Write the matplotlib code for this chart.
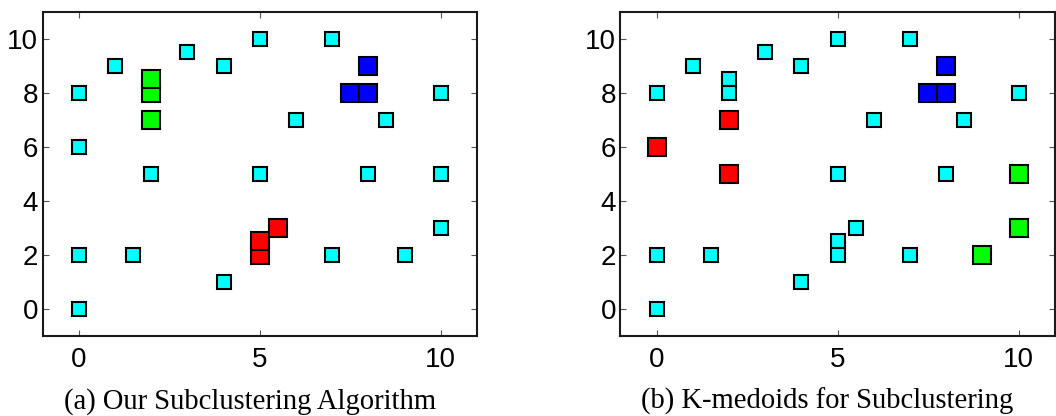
import matplotlib
matplotlib.use("Agg")
import matplotlib.pyplot as plt

# ---- data ----
# Panel (a): Our Subclustering Algorithm
a_cyan_x = [0, 1, 3, 4, 5, 7, 10, 6, 8.5, 0, 2, 5, 8, 10, 10, 0, 1.5, 7, 9, 4, 0]
a_cyan_y = [8, 9, 9.5, 9, 10, 10, 8, 7, 7, 6, 5, 5, 5, 5, 3, 2, 2, 2, 2, 1, 0]
a_green_x = [2, 2, 2]
a_green_y = [8, 8.5, 7]
a_red_x = [5, 5, 5.5]
a_red_y = [2, 2.5, 3]
a_blue_x = [8, 7.5, 8]
a_blue_y = [9, 8, 8]

# Panel (b): K-medoids for Subclustering
b_cyan_x = [0, 1, 2, 2, 3, 4, 5, 7, 10, 6, 8.5, 5, 8, 5.5, 5, 5, 0, 1.5, 7, 4, 0]
b_cyan_y = [8, 9, 8.5, 8, 9.5, 9, 10, 10, 8, 7, 7, 5, 5, 3, 2.5, 2, 2, 2, 2, 1, 0]
b_red_x = [2, 0, 2]
b_red_y = [7, 6, 5]
b_green_x = [10, 10, 9]
b_green_y = [5, 3, 2]
b_blue_x = [7.5, 8, 8]
b_blue_y = [8, 8, 9]

captions = ["(a) Our Subclustering Algorithm", "(b) K-medoids for Subclustering"]
x_ticks = [0, 5, 10]
y_ticks = [0, 2, 4, 6, 8, 10]

W, H = 1056, 416
fig = plt.figure(figsize=(W / 100, H / 100), dpi=100)

ax_w = 434.5 / W
ax_h = 324 / H
ax_b = (H - 335.7) / H
axA = fig.add_axes([42.5 / W, ax_b, ax_w, ax_h])
axB = fig.add_axes([620.3 / W, ax_b, ax_w, ax_h])

small = 9.6
big = 13.5
ew = 1.5

def pts(ax, xs, ys, color, size):
    for x, y in zip(xs, ys):
        ax.plot([x], [y], linestyle="none", marker="s", markersize=size,
                markerfacecolor=color, markeredgecolor="black",
                markeredgewidth=ew)

def style(ax):
    ax.set_xlim(-1, 11)
    ax.set_ylim(-1, 11)
    ax.set_xticks(x_ticks)
    ax.set_yticks(y_ticks)
    ax.tick_params(direction="in", length=4, width=0.8, color="#555555",
                   top=True, right=True, labelsize=20, pad=3)
    ax.tick_params(axis="x", pad=8)
    for lab in ax.get_xticklabels() + ax.get_yticklabels():
        lab.set_family(["Liberation Sans", "DejaVu Sans"])
    for s in ax.spines.values():
        s.set_linewidth(1.5)
        s.set_color("#1a1a1a")

pts(axA, a_cyan_x, a_cyan_y, "#00ffff", small)
pts(axA, a_green_x, a_green_y, "#00ff00", big)
pts(axA, a_red_x, a_red_y, "#ff0000", big)
pts(axA, a_blue_x, a_blue_y, "#0000ff", big)

pts(axB, b_cyan_x, b_cyan_y, "#00ffff", small)
pts(axB, b_red_x, b_red_y, "#ff0000", big)
pts(axB, b_green_x, b_green_y, "#00ff00", big)
pts(axB, b_blue_x, b_blue_y, "#0000ff", big)

style(axA)
style(axB)

fig.text(250 / W, (H - 408.5) / H, captions[0], ha="center", va="baseline",
         fontsize=20.6, family=["Liberation Serif", "DejaVu Serif"])
fig.text(827 / W, (H - 408.5) / H, captions[1], ha="center", va="baseline",
         fontsize=20.6, family=["Liberation Serif", "DejaVu Serif"])

fig.savefig("out.png", dpi=100)
